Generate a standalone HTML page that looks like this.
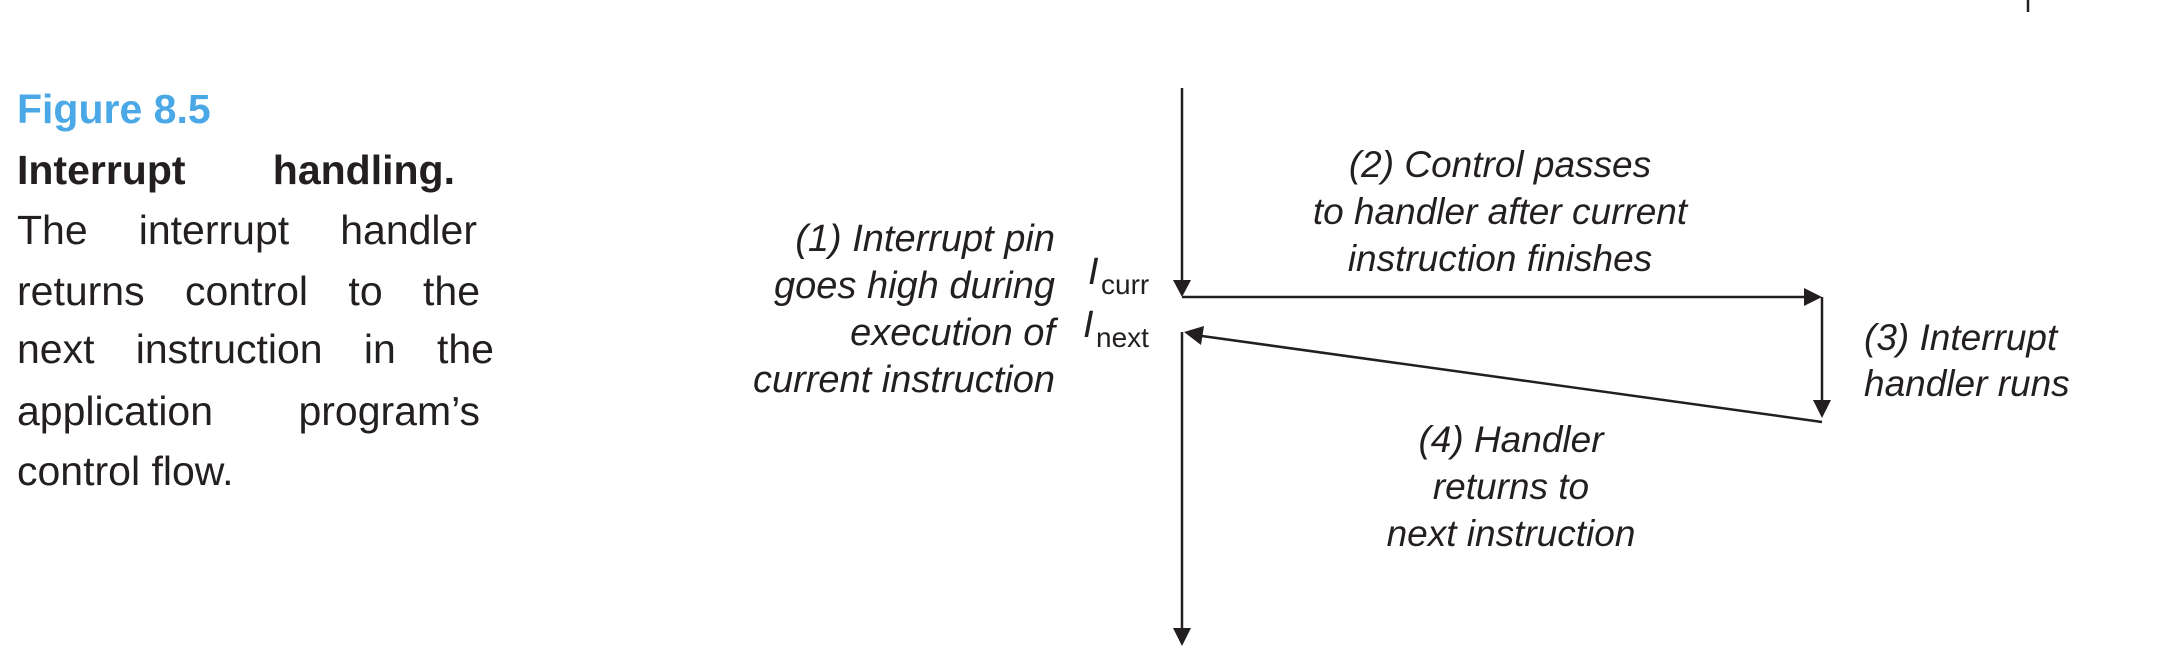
<!DOCTYPE html>
<html><head><meta charset="utf-8"><style>
html,body{margin:0;padding:0;background:#fff;}
body{width:2176px;height:664px;position:relative;overflow:hidden;}
.cap{position:absolute;left:17px;font-family:"Liberation Sans",sans-serif;font-size:41px;color:#231f20;}
.cap div{position:absolute;left:0;white-space:nowrap;}
.j{text-align:justify;text-align-last:justify;}
</style></head><body>
<div class="cap">
<div style="top:86px;color:#4aa8e6;font-weight:bold;font-size:41px;">Figure 8.5</div>
<div class="j" style="top:147px;width:438px;font-weight:bold;">Interrupt handling.</div>
<div class="j" style="top:207px;width:460px;">The interrupt handler</div>
<div class="j" style="top:268px;width:463px;">returns control to the</div>
<div class="j" style="top:326px;width:477px;">next instruction in the</div>
<div class="j" style="top:388px;width:463px;">application program’s</div>
<div style="top:448px;">control flow.</div>
</div>
<svg width="2176" height="664" style="position:absolute;left:0;top:0" font-family="Liberation Sans, sans-serif" font-style="italic" fill="#231f20">
<g stroke="#231f20" stroke-width="2.5" fill="none">
<line x1="1182" y1="88" x2="1182" y2="280"/>
<line x1="1182" y1="297" x2="1804" y2="297"/>
<line x1="1822" y1="297" x2="1822" y2="400"/>
<line x1="1822" y1="422" x2="1202" y2="336"/>
<line x1="1182" y1="332" x2="1182" y2="628"/>
<line x1="2028" y1="0" x2="2028" y2="12"/>
</g>
<g stroke="none">
<polygon points="1173,280 1191,280 1182,297"/>
<polygon points="1804,288 1804,306 1822,297"/>
<polygon points="1813,400 1831,400 1822,418"/>
<polygon points="1184,332 1204,326 1201,345"/>
<polygon points="1173,628 1191,628 1182,646"/>
</g>
<g font-size="38" text-anchor="end">
<text x="1055" y="251">(1) Interrupt pin</text>
<text x="1055" y="298">goes high during</text>
<text x="1055" y="345">execution of</text>
<text x="1055" y="392">current instruction</text>
</g>
<g font-size="37" text-anchor="middle">
<text x="1500" y="177">(2) Control passes</text>
<text x="1500" y="224">to handler after current</text>
<text x="1500" y="271">instruction finishes</text>
<text x="1511" y="452">(4) Handler</text>
<text x="1511" y="499">returns to</text>
<text x="1511" y="546">next instruction</text>
</g>
<g font-size="37">
<text x="1864" y="350">(3) Interrupt</text>
<text x="1864" y="396">handler runs</text>
</g>
<text x="1088" y="284" font-size="38">I</text>
<text x="1101" y="294" font-size="28" font-style="normal">curr</text>
<text x="1083" y="337" font-size="38">I</text>
<text x="1096" y="347" font-size="28" font-style="normal">next</text>
</svg>
</body></html>
